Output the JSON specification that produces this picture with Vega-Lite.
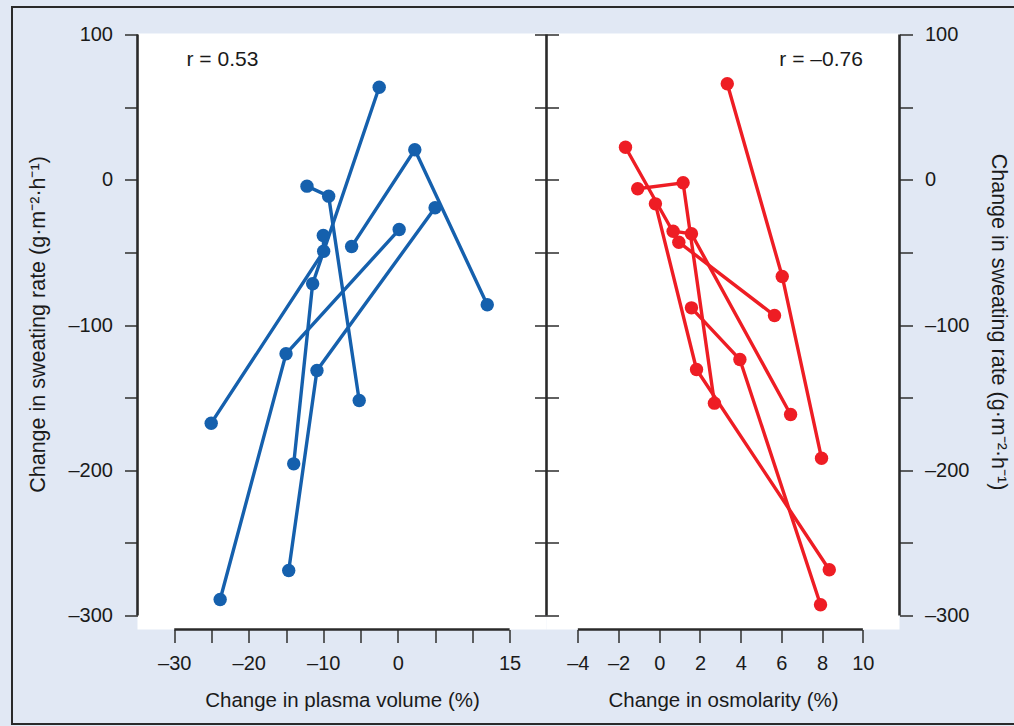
{
  "$schema": "https://vega.github.io/schema/vega-lite/v6.json",
  "background": "#e1e8f4",
  "padding": {"left": 10.5, "top": 5.5, "right": 0, "bottom": 0},
  "spacing": 0,
  "bounds": "flush",
  "config": {
    "view": {"fill": "white", "stroke": null},
    "font": "Liberation Sans",
    "axis": {
      "grid": false,
      "labelFont": "Liberation Sans",
      "titleFont": "Liberation Sans",
      "labelFontSize": 20,
      "titleFontSize": 21,
      "titleFontWeight": "normal",
      "labelColor": "#1a1a1a",
      "titleColor": "#1a1a1a",
      "tickColor": "#3a3a3a",
      "tickWidth": 1.6,
      "tickSize": 13,
      "domain": false,
      "labelOverlap": false,
      "labelFlush": false
    }
  },
  "datasets": {
    "pv": [
      {"s": 1, "k": 1, "x": -6.2, "y": -46.0},
      {"s": 1, "k": 2, "x": 2.28, "y": 20.6},
      {"s": 1, "k": 3, "x": 12.0, "y": -86.1},
      {"s": 2, "k": 1, "x": 5.0, "y": -19.3},
      {"s": 2, "k": 2, "x": -10.85, "y": -131.3},
      {"s": 2, "k": 3, "x": -14.64, "y": -269.0},
      {"s": 3, "k": 1, "x": 0.18, "y": -34.3},
      {"s": 3, "k": 2, "x": -15.0, "y": -119.8},
      {"s": 3, "k": 3, "x": -23.84, "y": -289.0},
      {"s": 4, "k": 1, "x": -12.19, "y": -4.4},
      {"s": 4, "k": 2, "x": -9.28, "y": -11.3},
      {"s": 4, "k": 3, "x": -5.18, "y": -152.0},
      {"s": 5, "k": 1, "x": -2.5, "y": 63.7},
      {"s": 5, "k": 2, "x": -11.43, "y": -71.6},
      {"s": 5, "k": 3, "x": -13.97, "y": -195.6},
      {"s": 6, "k": 1, "x": -10.0, "y": -38.4},
      {"s": 6, "k": 2, "x": -9.95, "y": -49.2},
      {"s": 6, "k": 3, "x": -25.04, "y": -167.6}
    ],
    "osm": [
      {"s": 1, "k": 1, "x": 3.34, "y": 66.1},
      {"s": 1, "k": 2, "x": 6.04, "y": -66.6},
      {"s": 1, "k": 3, "x": 7.97, "y": -191.7},
      {"s": 2, "k": 1, "x": -1.06, "y": -6.2},
      {"s": 2, "k": 2, "x": 1.17, "y": -2.1},
      {"s": 2, "k": 3, "x": 2.71, "y": -153.8},
      {"s": 3, "k": 1, "x": -0.19, "y": -16.6},
      {"s": 3, "k": 2, "x": 1.83, "y": -130.6},
      {"s": 3, "k": 3, "x": 8.35, "y": -268.5},
      {"s": 4, "k": 1, "x": -1.66, "y": 22.4},
      {"s": 4, "k": 2, "x": 0.96, "y": -43.0},
      {"s": 4, "k": 3, "x": 5.66, "y": -93.5},
      {"s": 5, "k": 1, "x": 0.68, "y": -35.4},
      {"s": 5, "k": 2, "x": 1.58, "y": -37.2},
      {"s": 5, "k": 3, "x": 6.45, "y": -161.6},
      {"s": 6, "k": 1, "x": 1.58, "y": -88.2},
      {"s": 6, "k": 2, "x": 3.96, "y": -123.8},
      {"s": 6, "k": 3, "x": 7.92, "y": -292.6}
    ]
  },
  "hconcat": [
    {
      "width": 409,
      "height": 596,
      "resolve": {"axis": {"x": "independent", "y": "independent"}},
      "layer": [
        {
          "data": {"values": [{}]},
          "mark": {"type": "rule", "color": "#2a2a2a", "strokeWidth": 2, "strokeCap": "square"},
          "encoding": {
            "x": {"datum": -51.77, "type": "quantitative", "scale": {"domain": [-34.93, 19.95], "nice": false, "zero": false}, "axis": null},
            "y": {"datum": 118.93, "type": "quantitative", "scale": {"domain": [-309.64, 100.69], "nice": false, "zero": false}, "axis": null},
            "y2": {"datum": -374.7}
          }
        },
        {
          "data": {"values": [{}]},
          "mark": {"type": "rule", "color": "#2a2a2a", "strokeWidth": 2, "strokeCap": "square"},
          "encoding": {
            "x": {"datum": -51.77, "type": "quantitative", "scale": {"domain": [-34.93, 19.95], "nice": false, "zero": false}, "axis": null},
            "x2": {"datum": 82.6},
            "y": {"datum": 118.93, "type": "quantitative", "scale": {"domain": [-309.64, 100.69], "nice": false, "zero": false}, "axis": null}
          }
        },
        {
          "data": {"values": [{}]},
          "mark": {"type": "rule", "color": "#2a2a2a", "strokeWidth": 2, "strokeCap": "square"},
          "encoding": {
            "x": {"datum": -51.77, "type": "quantitative", "scale": {"domain": [-34.93, 19.95], "nice": false, "zero": false}, "axis": null},
            "x2": {"datum": 82.6},
            "y": {"datum": -374.7, "type": "quantitative", "scale": {"domain": [-309.64, 100.69], "nice": false, "zero": false}, "axis": null}
          }
        },
        {
          "data": {"values": [{}]},
          "mark": {"type": "rule", "color": "#2a2a2a", "strokeWidth": 2.6},
          "encoding": {
            "x": {"datum": -34.93, "type": "quantitative", "scale": {"domain": [-34.93, 19.95], "nice": false, "zero": false}, "axis": null},
            "y": {"datum": -300, "type": "quantitative", "scale": {"domain": [-309.64, 100.69], "nice": false, "zero": false}, "axis": null},
            "y2": {"datum": 100}
          }
        },
        {
          "data": {"values": [{}]},
          "mark": {"type": "rule", "color": "#2a2a2a", "strokeWidth": 2.6},
          "encoding": {
            "x": {"datum": -30, "type": "quantitative", "scale": {"domain": [-34.93, 19.95], "nice": false, "zero": false}, "axis": null},
            "x2": {"datum": 15},
            "y": {"datum": -309.64, "type": "quantitative", "scale": {"domain": [-309.64, 100.69], "nice": false, "zero": false}, "axis": null}
          }
        },
        {
          "data": {"name": "pv"},
          "mark": {"type": "line", "color": "#1560ad", "strokeWidth": 3.4},
          "encoding": {
            "x": {
              "field": "x", "type": "quantitative",
              "scale": {"domain": [-34.93, 19.95], "nice": false, "zero": false},
              "axis": {
                "orient": "bottom",
                "values": [-30, -25, -20, -15, -10, -5, 0, 5, 10, 15],
                "labelExpr": "indexof([-30, -20, -10, 0, 15], datum.value) >= 0 ? (datum.value < 0 ? '–' : '') + abs(datum.value) : ''",
                "labelPadding": 11,
                "title": "Change in plasma volume (%)",
                "titleFontSize": 20.5,
                "titlePadding": 17
              }
            },
            "y": {
              "field": "y", "type": "quantitative",
              "scale": {"domain": [-309.64, 100.69], "nice": false, "zero": false},
              "axis": {
                "orient": "left",
                "values": [-300, -250, -200, -150, -100, -50, 0, 50, 100],
                "labelExpr": "datum.value % 100 === 0 ? (datum.value < 0 ? '–' : '') + abs(datum.value) : ''",
                "labelPadding": 12,
                "title": "Change in sweating rate (g·m⁻²·h⁻¹)",
                "titleFontSize": 21.5,
                "titleX": -88.5,
                "titleY": 290.5
              }
            },
            "detail": {"field": "s"},
            "order": {"field": "k"}
          }
        },
        {
          "data": {"name": "pv"},
          "mark": {"type": "point", "filled": true, "opacity": 1, "color": "#1560ad", "size": 180, "shape": "circle"},
          "encoding": {
            "x": {"field": "x", "type": "quantitative", "scale": {"domain": [-34.93, 19.95], "nice": false, "zero": false}, "axis": null},
            "y": {"field": "y", "type": "quantitative", "scale": {"domain": [-309.64, 100.69], "nice": false, "zero": false}, "axis": null}
          }
        },
        {
          "data": {"values": [{"label": "r = 0.53"}]},
          "mark": {"type": "text", "align": "left", "baseline": "alphabetic", "fontSize": 21, "color": "#1a1a1a", "font": "Liberation Sans"},
          "encoding": {
            "x": {"datum": -28.35, "type": "quantitative", "scale": {"domain": [-34.93, 19.95], "nice": false, "zero": false}, "axis": null},
            "y": {"datum": 78, "type": "quantitative", "scale": {"domain": [-309.64, 100.69], "nice": false, "zero": false}, "axis": null},
            "text": {"field": "label"}
          }
        }
      ]
    },
    {
      "width": 353,
      "height": 596,
      "resolve": {"axis": {"x": "independent", "y": "independent"}},
      "layer": [
        {
          "data": {"values": [{}]},
          "mark": {"type": "rule", "color": "#2a2a2a", "strokeWidth": 2.6},
          "encoding": {
            "x": {"datum": -5.54, "type": "quantitative", "scale": {"domain": [-5.54, 11.8], "nice": false, "zero": false}, "axis": null},
            "y": {
              "datum": -300, "type": "quantitative",
              "scale": {"domain": [-309.64, 100.69], "nice": false, "zero": false},
              "axis": {
                "orient": "left",
                "values": [-300, -250, -200, -150, -100, -50, 0, 50, 100],
                "labels": false,
                "offset": -12,
                "tickSize": 24,
                "title": null
              }
            },
            "y2": {"datum": 100}
          }
        },
        {
          "data": {"values": [{}]},
          "mark": {"type": "rule", "color": "#2a2a2a", "strokeWidth": 2.6},
          "encoding": {
            "x": {"datum": 11.8, "type": "quantitative", "scale": {"domain": [-5.54, 11.8], "nice": false, "zero": false}, "axis": null},
            "y": {"datum": -300, "type": "quantitative", "scale": {"domain": [-309.64, 100.69], "nice": false, "zero": false}, "axis": null},
            "y2": {"datum": 100}
          }
        },
        {
          "data": {"values": [{}]},
          "mark": {"type": "rule", "color": "#2a2a2a", "strokeWidth": 2.6},
          "encoding": {
            "x": {"datum": -4, "type": "quantitative", "scale": {"domain": [-5.54, 11.8], "nice": false, "zero": false}, "axis": null},
            "x2": {"datum": 10},
            "y": {"datum": -309.64, "type": "quantitative", "scale": {"domain": [-309.64, 100.69], "nice": false, "zero": false}, "axis": null}
          }
        },
        {
          "data": {"name": "osm"},
          "mark": {"type": "line", "color": "#ee1d24", "strokeWidth": 3.4},
          "encoding": {
            "x": {
              "field": "x", "type": "quantitative",
              "scale": {"domain": [-5.54, 11.8], "nice": false, "zero": false},
              "axis": {
                "orient": "bottom",
                "values": [-4, -2, 0, 2, 4, 6, 8, 10],
                "labelExpr": "(datum.value < 0 ? '–' : '') + abs(datum.value)",
                "labelPadding": 11,
                "title": "Change in osmolarity (%)",
                "titleFontSize": 20.5,
                "titlePadding": 17
              }
            },
            "y": {
              "field": "y", "type": "quantitative",
              "scale": {"domain": [-309.64, 100.69], "nice": false, "zero": false},
              "axis": {
                "orient": "right",
                "values": [-300, -250, -200, -150, -100, -50, 0, 50, 100],
                "labelExpr": "datum.value % 100 === 0 ? (datum.value < 0 ? '–' : '') + abs(datum.value) : ''",
                "labelPadding": 12,
                "title": "Change in sweating rate (g·m⁻²·h⁻¹)",
                "titleFontSize": 21.5,
                "titleX": 86.5,
                "titleY": 288
              }
            },
            "detail": {"field": "s"},
            "order": {"field": "k"}
          }
        },
        {
          "data": {"name": "osm"},
          "mark": {"type": "point", "filled": true, "opacity": 1, "color": "#ee1d24", "size": 180, "shape": "circle"},
          "encoding": {
            "x": {"field": "x", "type": "quantitative", "scale": {"domain": [-5.54, 11.8], "nice": false, "zero": false}, "axis": null},
            "y": {"field": "y", "type": "quantitative", "scale": {"domain": [-309.64, 100.69], "nice": false, "zero": false}, "axis": null}
          }
        },
        {
          "data": {"values": [{"label": "r = –0.76"}]},
          "mark": {"type": "text", "align": "right", "baseline": "alphabetic", "fontSize": 21, "color": "#1a1a1a", "font": "Liberation Sans"},
          "encoding": {
            "x": {"datum": 10, "type": "quantitative", "scale": {"domain": [-5.54, 11.8], "nice": false, "zero": false}, "axis": null},
            "y": {"datum": 78, "type": "quantitative", "scale": {"domain": [-309.64, 100.69], "nice": false, "zero": false}, "axis": null},
            "text": {"field": "label"}
          }
        }
      ]
    }
  ]
}
